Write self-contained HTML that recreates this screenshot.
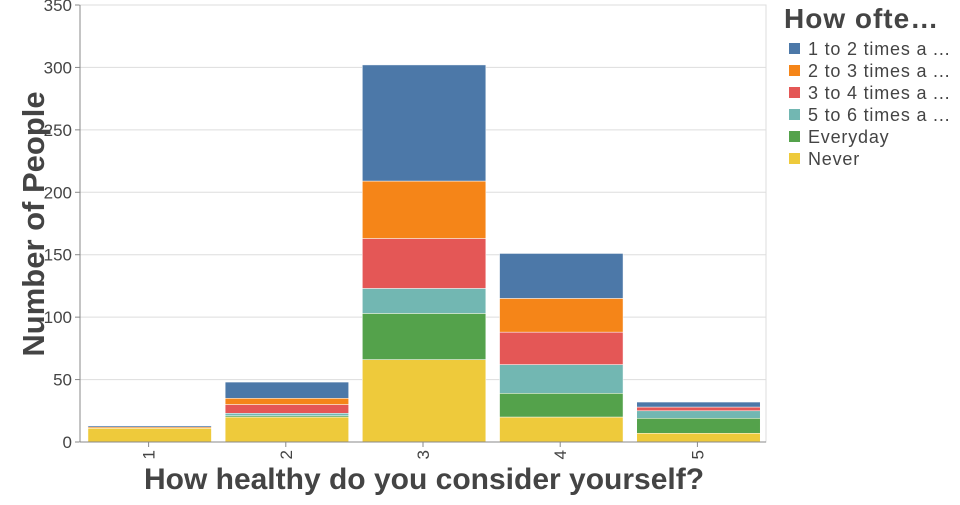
<!DOCTYPE html>
<html><head><meta charset="utf-8"><style>
body{margin:0;background:#fff;font-family:"Liberation Sans",sans-serif}
svg text{font-family:"Liberation Sans",sans-serif}
</style></head><body>
<svg id="c" width="960" height="500"></svg>
<script>
const categories=["1","2","3","4","5"];
const seriesNames=["Never","Everyday","5 to 6 times a ...","3 to 4 times a ...","2 to 3 times a ...","1 to 2 times a ..."];
const never=[11,20,66,20,7];
const everyday=[0,1,37,19,12];
const five6=[0,2,20,23,6];
const three4=[0,7,40,26,3];
const two3=[1,5,46,27,0];
const one2=[1,13,93,36,4];
const yTicks=[0,50,100,150,200,250,300,350];
const colors=["#eeca3b","#54a24b","#72b7b2","#e45756","#f58518","#4c78a8"];
const legendOrder=[5,4,3,2,1,0];
const series=[never,everyday,five6,three4,two3,one2];
const NS="http://www.w3.org/2000/svg";
const svg=document.getElementById("c");
const X0=80,X1=766,Y0=442,Y1=5,YMAX=350;
const y=v=>Y0-(v/YMAX)*(Y0-Y1);
const step=(X1-X0)/categories.length;
const x=i=>X0+i*step;
function mk(t,a,txt){const e=document.createElementNS(NS,t);for(const k in a)e.setAttribute(k,a[k]);if(txt!==undefined)e.textContent=txt;svg.appendChild(e);return e;}
yTicks.forEach(t=>{
 const g=mk("line",{x1:X0,x2:X1,y1:y(t),y2:y(t),stroke:"#ddd"});
 
 
 const tk=mk("line",{x1:X0-5,x2:X0,y1:y(t),y2:y(t),stroke:"#888"});
 
 
 const l=mk("text",{x:X0-8,y:y(t)+6,"text-anchor":"end","font-size":"17",fill:"#444"},t);
 
 
});
const fr=mk("rect",{x:X0,y:Y1,width:X1-X0,height:Y0-Y1,fill:"none",stroke:"#ddd"});


categories.forEach((c,i)=>{
 let acc=0;
 series.forEach((s,j)=>{
  const v=s[i]; if(!v){return;}
  const r=mk("rect",{x:x(i)+step*0.058,width:step*0.9,y:y(acc+v),height:y(acc)-y(acc+v),fill:colors[j],stroke:"#fff","stroke-width":"0.5"});
  
  
  acc+=v;
 });
 const tk=mk("line",{x1:x(i)+step/2,x2:x(i)+step/2,y1:Y0,y2:Y0+5,stroke:"#888"});
 
 
 const l=mk("text",{x:0,y:0,"text-anchor":"end","font-size":"17",fill:"#444",transform:`translate(${x(i)+step/2+6},${Y0+8}) rotate(-90)`},c);
 
 
});
const ax=mk("line",{x1:X0,x2:X1,y1:Y0,y2:Y0,stroke:"#888"});


const ay=mk("line",{x1:X0,x2:X0,y1:Y1,y2:Y0,stroke:"#888"});


const xt=mk("text",{x:424,y:489,"text-anchor":"middle","font-size":"30","font-weight":"bold",fill:"#444"},"How healthy do you consider yourself?");


const yt=mk("text",{x:0,y:0,"text-anchor":"middle","font-size":"31","font-weight":"bold",fill:"#444",transform:"translate(44,224) rotate(-90)"},"Number of People");


const lt=mk("text",{x:784,y:28,"font-size":"28","font-weight":"bold",fill:"#444","letter-spacing":"1"},"How ofte…");


legendOrder.forEach((j,k)=>{
 const yy=49+k*22;
 const s=mk("rect",{x:789,y:yy-6,width:11,height:11,fill:colors[j]});
 
 
 const t=mk("text",{x:808,y:yy+6,"font-size":"18",fill:"#444","letter-spacing":"0.8"},seriesNames[j]);
 
 
});
</script>
</body></html>
